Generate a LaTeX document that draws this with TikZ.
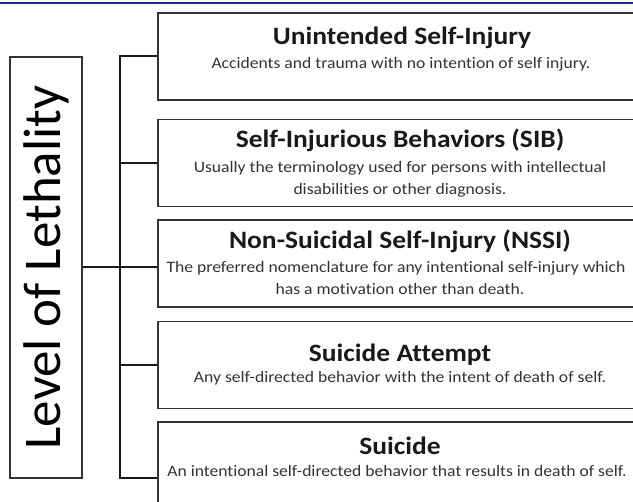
\documentclass[tikz,border=0pt]{standalone}
\usepackage{fontspec}
\setmainfont{Carlito}
\newfontfamily\boxfont[FakeStretch=1.1,Ligatures=NoCommon]{Carlito}
\usepackage{graphicx}
\usetikzlibrary{positioning}
\definecolor{rulenavy}{RGB}{32,40,128}

\begin{document}
\begin{tikzpicture}[x=1pt,y=-1pt,
  catbox/.style={draw=black!80,line width=1.8pt,minimum width=484pt,minimum height=87pt,inner sep=0pt},
  cattitle/.style={anchor=base,font=\boxfont\fontsize{25}{30}\selectfont\bfseries,text=black!90},
  catnote/.style={anchor=base,font=\boxfont\fontsize{16}{20}\selectfont,text=black!80},
  link/.style={line width=2pt,black!90}]
  \useasboundingbox (0,0) rectangle (633,502);
  \clip (0,0) rectangle (633,502);
  \draw[line width=2pt,rulenavy] (0,3) -- (633,3);
  \node[draw=black!80,line width=1.8pt,minimum width=72pt,minimum height=421pt,inner sep=0pt] (lethal) at (46,267.5)
    {\rotatebox{90}{\fontsize{53}{60}\selectfont Level of Lethality}};
  \node[catbox] (unint) at (400,56.5) {};
  \node[catbox] (sib) at (400,163) {};
  \node[catbox] (nssi) at (400,263.5) {};
  \node[catbox] (attempt) at (400,365) {};
  \node[catbox] (suicide) at (400,465.5) {};
  \node[cattitle] (unint-t) at (402,45) {Unintended Self-Injury};
  \node[catnote] (unint-n) at (401,69) {Accidents and trauma with no intention of self injury.};
  \node[cattitle] (sib-t) at (400,148) {Self-Injurious Behaviors (SIB)};
  \node[catnote] (sib-n1) at (400,173) {Usually the terminology used for persons with intellectual};
  \node[catnote] (sib-n2) at (400,195) {disabilities or other diagnosis.};
  \node[cattitle] (nssi-t) at (400,249) {Non-Suicidal Self-Injury (NSSI)};
  \node[catnote] (nssi-n1) at (396,273) {The preferred nomenclature for any intentional self-injury which};
  \node[catnote] (nssi-n2) at (400,295) {has a motivation other than death.};
  \node[cattitle] (attempt-t) at (400,362) {Suicide Attempt};
  \node[catnote] (attempt-n) at (400,383) {Any self-directed behavior with the intent of death of self.};
  \node[cattitle] (suicide-t) at (400,455) {Suicide};
  \node[catnote] (suicide-n) at (397,477) {An intentional self-directed behavior that results in death of self.};
  \coordinate (trunk) at (120,478);
  \draw[link] (unint.west) -| (trunk) -- (trunk -| suicide.west);
  \draw[link] (sib.west) -- (sib.west -| trunk);
  \draw[link] (attempt.west) -- (attempt.west -| trunk);
  \draw[link] (lethal.east) -- (lethal.east -| nssi.west);
\end{tikzpicture}
\end{document}
